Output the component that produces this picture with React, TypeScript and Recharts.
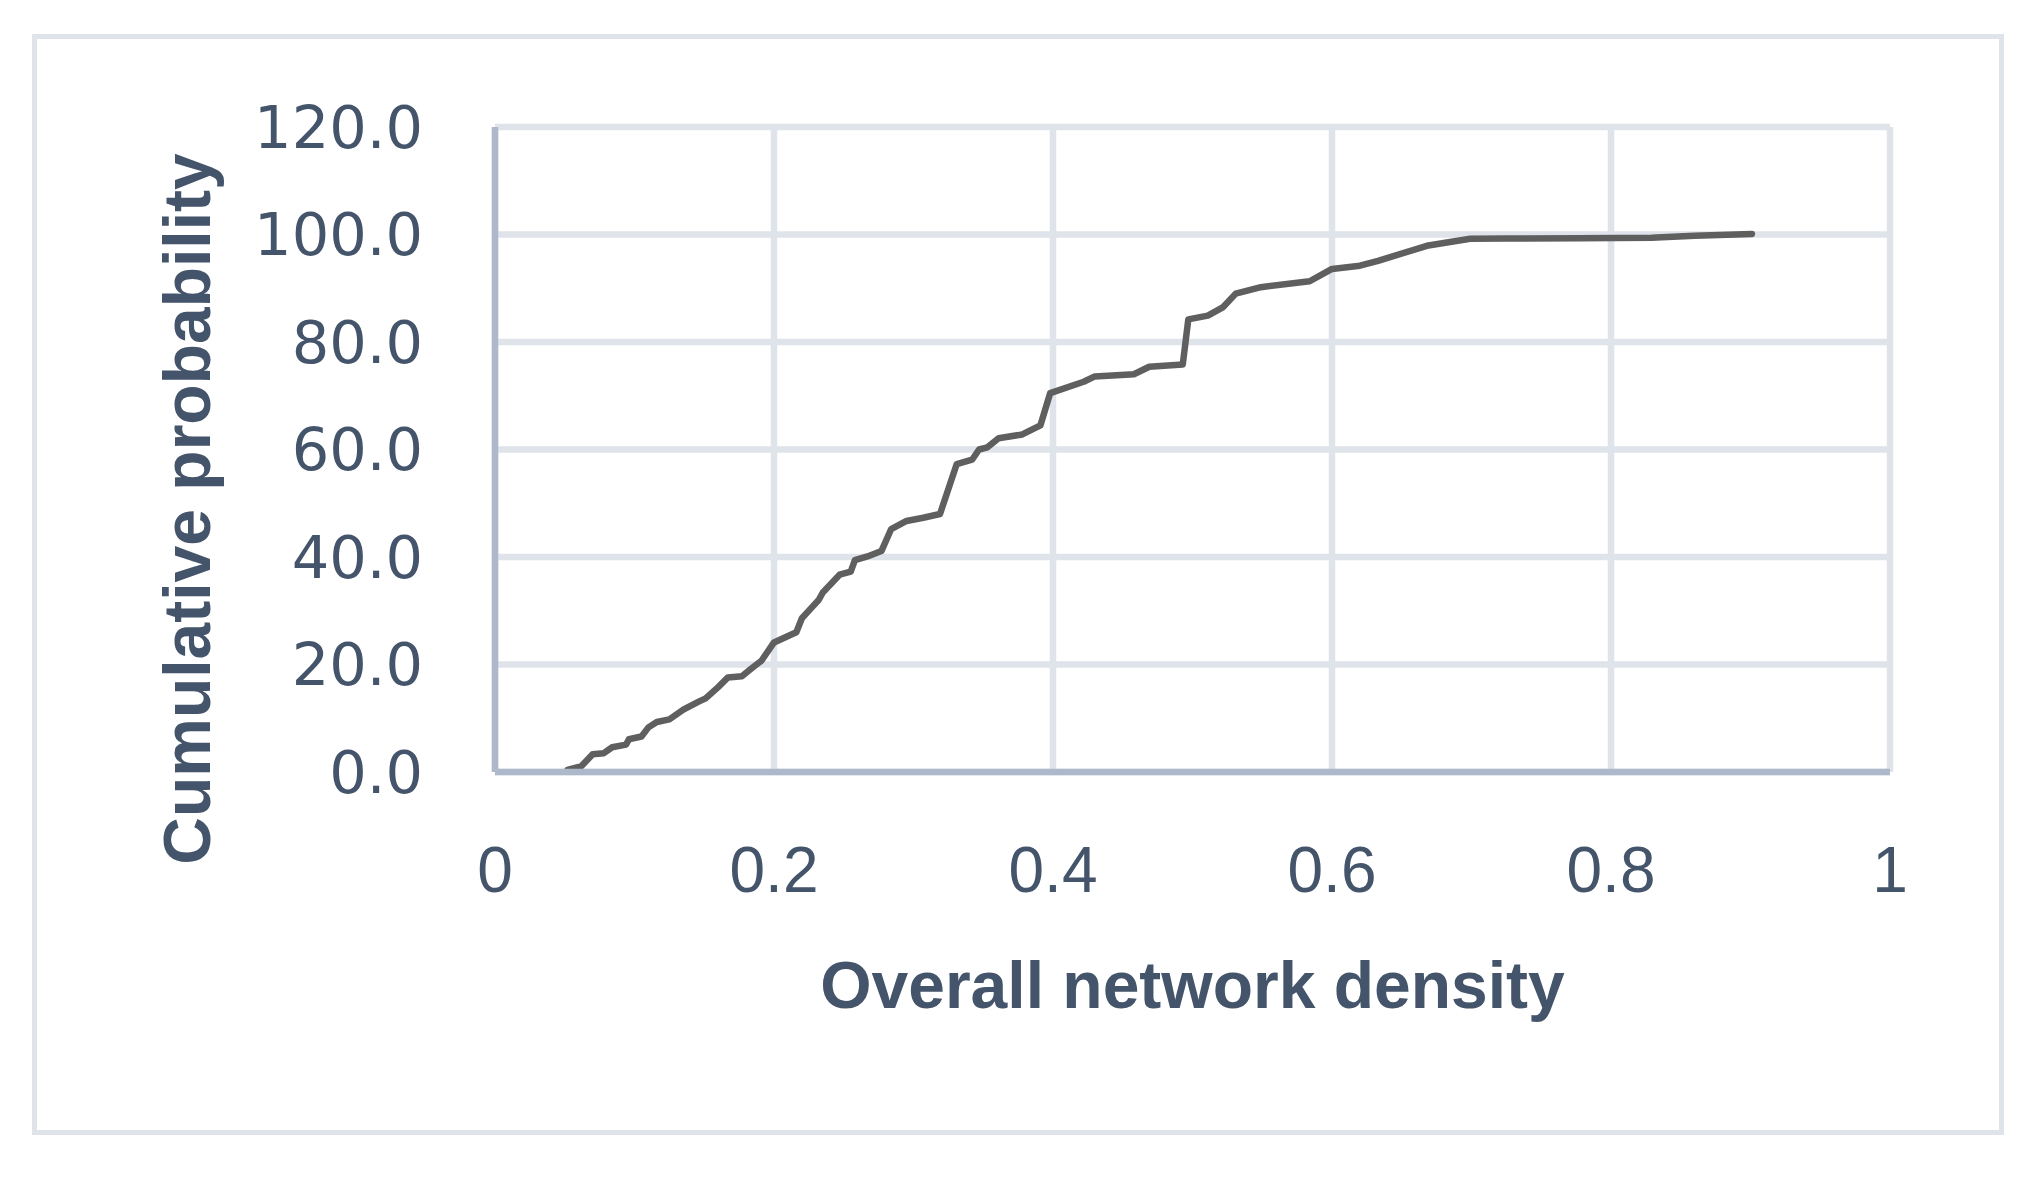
import { LineChart, Line, XAxis, YAxis, CartesianGrid } from 'recharts';

const densityValues = [
  0.052, 0.062, 0.070, 0.078, 0.084, 0.094, 0.096, 0.105, 0.110, 0.116,
  0.125, 0.135, 0.146, 0.151, 0.160, 0.167, 0.177, 0.184, 0.191, 0.200,
  0.216, 0.220, 0.226, 0.232, 0.235, 0.247, 0.255, 0.258, 0.267, 0.277,
  0.284, 0.295, 0.307, 0.319, 0.331, 0.342, 0.347, 0.353, 0.361, 0.378,
  0.391, 0.398, 0.422, 0.430, 0.458, 0.469, 0.493, 0.497, 0.511, 0.522,
  0.531, 0.549, 0.584, 0.600, 0.620, 0.633, 0.668, 0.699, 0.724, 0.777,
  0.829, 0.860, 0.901,
];

const cumulativeValues = [
  0.4, 1.1, 3.3, 3.5, 4.6, 5.1, 6.1, 6.6, 8.3, 9.3,
  9.8, 11.6, 13.1, 13.7, 15.8, 17.6, 17.8, 19.3, 20.7, 24.1,
  26.0, 28.6, 30.3, 32.0, 33.4, 36.7, 37.3, 39.4, 40.1, 41.1,
  45.2, 46.7, 47.3, 48.0, 57.3, 58.1, 60.0, 60.4, 62.1, 62.8,
  64.5, 70.5, 72.6, 73.6, 74.0, 75.4, 75.8, 84.2, 84.9, 86.5,
  89.0, 90.2, 91.3, 93.6, 94.2, 95.1, 97.9, 99.2, 99.25, 99.3,
  99.4, 99.75, 100.1,
];

const xTicks = [0, 0.2, 0.4, 0.6, 0.8, 1];
const yTicks = [0, 20, 40, 60, 80, 100, 120];

const xTitle = 'Overall network density';
const yTitle = 'Cumulative probability';

const data = densityValues.map((x, i) => ({ x, y: cumulativeValues[i] }));

const TEXT = '#44546a';
const AXIS = '#adb9ca';
const GRID = '#dfe3ea';

export default function App() {
  return (
    <div style={{ position: 'absolute', left: 0, top: 0, width: 2040, height: 1178, background: '#fff' }}>
      <div
        style={{
          position: 'absolute',
          left: 32,
          top: 34,
          width: 1972,
          height: 1101,
          boxSizing: 'border-box',
          border: `5px solid ${GRID}`,
        }}
      />
      <div style={{ position: 'absolute', left: 0, top: 0 }}>
        <LineChart width={2040} height={1178} data={data} margin={{ top: 127, right: 150, bottom: 0, left: 0 }}>
          <CartesianGrid stroke={GRID} strokeWidth={6.5} />
          <XAxis
            type="number"
            dataKey="x"
            domain={[0, 1]}
            ticks={xTicks}
            height={406}
            tickLine={false}
            tickSize={0}
            tickMargin={75}
            axisLine={{ stroke: AXIS, strokeWidth: 6.5 }}
            tick={{ fill: TEXT, fontSize: 64, fontFamily: 'Liberation Sans' }}
            tickFormatter={(v: number) => String(v)}
            label={{
              content: ({ viewBox }: any) => (
                <text
                  x={viewBox.x + viewBox.width / 2}
                  y={viewBox.y + 236}
                  textAnchor="middle"
                  fill={TEXT}
                  fontSize={66}
                  fontWeight="bold"
                  fontFamily="Liberation Sans"
                >
                  {xTitle}
                </text>
              ),
            }}
          />
          <YAxis
            type="number"
            domain={[0, 120]}
            ticks={yTicks}
            width={495}
            tickLine={false}
            tickSize={0}
            tickMargin={72}
            axisLine={{ stroke: AXIS, strokeWidth: 6.5 }}
            tick={{ fill: TEXT, fontSize: 59, fontFamily: 'DejaVu Sans' }}
            tickFormatter={(v: number) => v.toFixed(1)}
            label={{
              content: ({ viewBox }: any) => {
                const cx = viewBox.x + 210;
                const cy = viewBox.y + 382;
                return (
                  <text
                    x={cx}
                    y={cy}
                    transform={`rotate(-90 ${cx} ${cy})`}
                    textAnchor="middle"
                    fill={TEXT}
                    fontSize={66}
                    fontWeight="bold"
                    fontFamily="Liberation Sans"
                  >
                    {yTitle}
                  </text>
                );
              },
            }}
          />
          <Line
            type="linear"
            dataKey="y"
            stroke="#5f5f5f"
            strokeWidth={6.5}
            strokeLinecap="round"
            strokeLinejoin="round"
            dot={false}
            isAnimationActive={false}
          />
        </LineChart>
      </div>
    </div>
  );
}
